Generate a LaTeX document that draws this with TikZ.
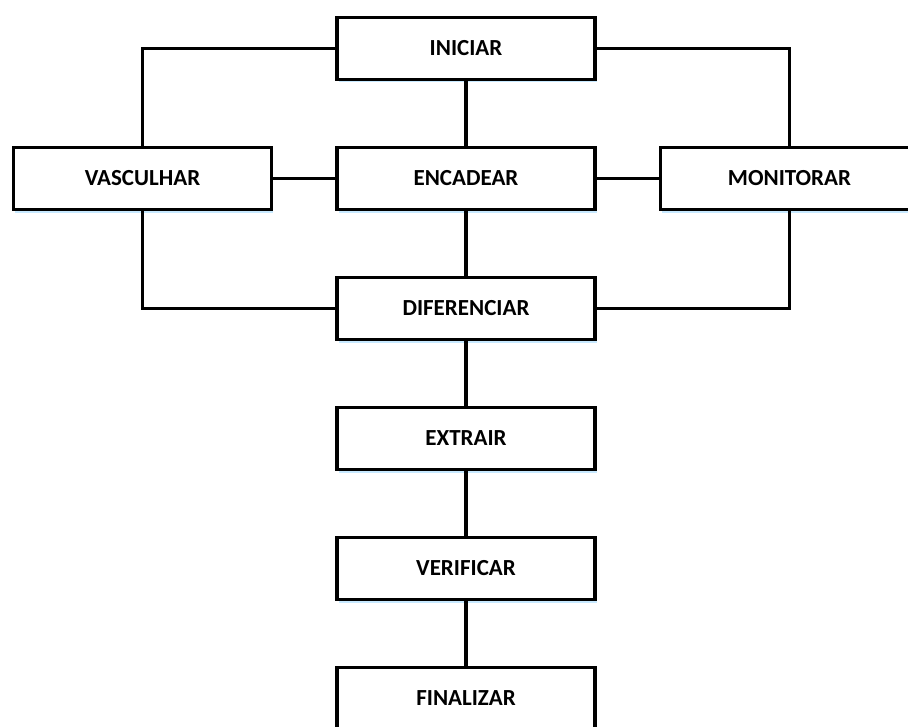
\documentclass[tikz,border=0pt]{standalone}
\usepackage{fontspec}
\setmainfont{Carlito}
\usetikzlibrary{shadows}
\begin{document}
\begin{tikzpicture}[x=1bp,y=-1bp,
  stagebox/.style={draw=black,line width=3.5bp,fill=white,minimum width=258bp,
    minimum height=62bp,inner sep=0pt,font=\bfseries\fontsize{23bp}{26bp}\selectfont,
    drop shadow={shadow xshift=1.5bp,shadow yshift=-3bp,fill=blue!40!cyan,opacity=0.22}},
  link/.style={draw=black,line width=3.5bp}]
\useasboundingbox (0,0) rectangle (908,727);
% central column
\node[stagebox] (ini) at (466,48.5) {INICIAR};
\node[stagebox] (enc) at (466,178.5) {ENCADEAR};
\node[stagebox] (dif) at (466,308.5) {DIFERENCIAR};
\node[stagebox] (ext) at (466,438.5) {EXTRAIR};
\node[stagebox] (ver) at (466,568.5) {VERIFICAR};
\node[stagebox] (fin) at (466,698.5) {FINALIZAR};
% side boxes
\node[stagebox] (vas) at (142.5,178.5) {VASCULHAR};
\node[stagebox] (mon) at (789.5,178.5) {MONITORAR};
% connectors
\path[link] (ini) -- (enc);
\path[link] (enc) -- (dif);
\path[link] (dif) -- (ext);
\path[link] (ext) -- (ver);
\path[link] (ver) -- (fin);
\path[link] (vas) -- (enc);
\path[link] (enc) -- (mon);
\path[link] (ini.west) -| (vas.north);
\path[link] (ini.east) -| (mon.north);
\path[link] (vas.south) |- (dif.west);
\path[link] (mon.south) |- (dif.east);
\end{tikzpicture}
\end{document}
